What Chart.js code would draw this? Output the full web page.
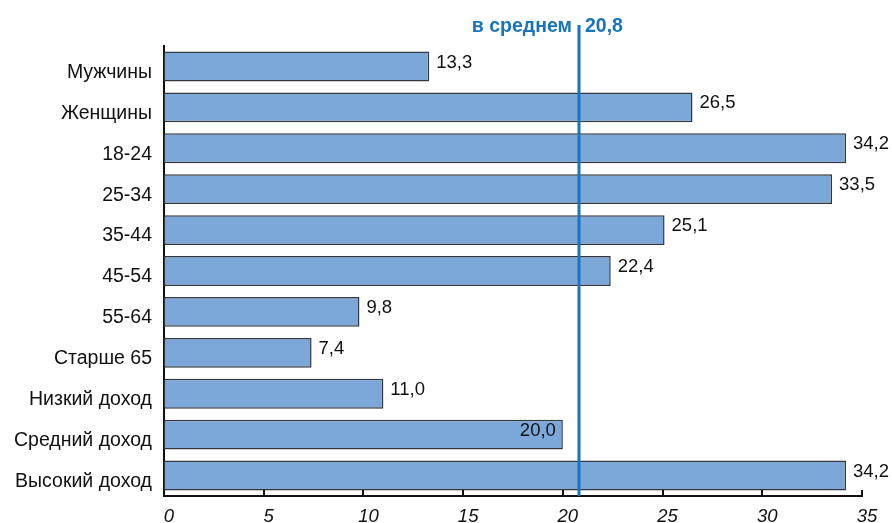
<!DOCTYPE html>
<html>
<head>
<meta charset="utf-8">
<script src="https://cdn.jsdelivr.net/npm/chart.js@4"></script>
<style>
  html, body { margin: 0; padding: 0; background: #fff; }
  #wrap { width: 892px; height: 523px; }
</style>
</head>
<body>
<div id="wrap"><canvas id="chart" width="892" height="523"></canvas></div>
<script>
var categories = ['Мужчины', 'Женщины', '18-24', '25-34', '35-44', '45-54', '55-64', 'Старше 65', 'Низкий доход', 'Средний доход', 'Высокий доход'];
var values = [13.3, 26.5, 34.2, 33.5, 25.1, 22.4, 9.8, 7.4, 11.0, 20.0, 34.2];
var average = 20.8;
var averageLabel = 'в среднем';
var xTicks = [0, 5, 10, 15, 20, 25, 30, 35];

var FONT = '"Liberation Sans", Arial, sans-serif';

function fmt(v) {
    return v.toFixed(1).replace('.', ',');
}

// average line + its caption
var averagePlugin = {
    id: 'averageLine',
    afterDatasetsDraw: function (chart) {
        var ctx = chart.ctx;
        var x = Math.round(chart.scales.x.getPixelForValue(average));
        var area = chart.chartArea;
        ctx.save();
        ctx.strokeStyle = '#1a74bd';
        ctx.lineWidth = 3;
        ctx.beginPath();
        ctx.moveTo(x, 25);
        ctx.lineTo(x, area.bottom);
        ctx.stroke();
        ctx.fillStyle = '#1a74bd';
        ctx.font = 'bold 19.5px ' + FONT;
        ctx.textBaseline = 'alphabetic';
        ctx.textAlign = 'right';
        ctx.fillText(averageLabel, x - 7, 32);
        ctx.textAlign = 'left';
        ctx.fillText(fmt(average), x + 6, 32);
        ctx.restore();
    }
};

// value labels at bar ends; moved inside when they would hit the average line
var valueLabels = {
    id: 'valueLabels',
    afterDatasetsDraw: function (chart) {
        var ctx = chart.ctx;
        var meta = chart.getDatasetMeta(0);
        var avgX = chart.scales.x.getPixelForValue(average);
        ctx.save();
        ctx.font = '18.5px ' + FONT;
        ctx.fillStyle = '#111';
        ctx.textBaseline = 'middle';
        meta.data.forEach(function (bar, i) {
            var text = fmt(values[i]);
            var w = ctx.measureText(text).width;
            var y = bar.y - 4;
            if (bar.x < avgX && bar.x + 7 + w > avgX - 3) {
                ctx.textAlign = 'right';
                ctx.fillText(text, bar.x - 7, y);
            } else {
                ctx.textAlign = 'left';
                ctx.fillText(text, bar.x + 7, y);
            }
        });
        ctx.restore();
    }
};

// short tick marks pointing up from the x axis
var innerTicks = {
    id: 'innerTicks',
    afterDraw: function (chart) {
        var ctx = chart.ctx;
        var xs = chart.scales.x;
        var bottom = chart.chartArea.bottom;
        ctx.save();
        ctx.strokeStyle = '#111';
        ctx.lineWidth = 2;
        xTicks.forEach(function (t) {
            if (t === 0) return;
            var x = Math.round(xs.getPixelForValue(t));
            ctx.beginPath();
            ctx.moveTo(x, bottom);
            ctx.lineTo(x, bottom - 6);
            ctx.stroke();
        });
        ctx.restore();
    }
};

new Chart(document.getElementById('chart'), {
    type: 'bar',
    data: {
        labels: categories,
        datasets: [{
            data: values,
            backgroundColor: '#7ba7d9',
            borderColor: '#33373d',
            borderWidth: 1.5,
            borderSkipped: false,
            barPercentage: 0.73,
            categoryPercentage: 1
        }]
    },
    options: {
        indexAxis: 'y',
        responsive: false,
        animation: false,
        devicePixelRatio: 1,
        layout: { padding: { top: 46, right: 30, left: 0, bottom: 0 } },
        plugins: {
            legend: { display: false },
            tooltip: { enabled: false }
        },
        scales: {
            x: {
                min: 0,
                max: 35,
                afterBuildTicks: function (scale) {
                    scale.ticks = xTicks.map(function (v) { return { value: v }; });
                },
                afterFit: function (scale) { scale.height = 27; },
                grid: { display: false },
                border: { display: true, color: '#111', width: 2 },
                ticks: {
                    padding: 2,
                    labelOffset: 5,
                    color: '#111',
                    font: { family: FONT, size: 18.5, style: 'italic' },
                    maxRotation: 0
                }
            },
            y: {
                afterFit: function (scale) { scale.width = 164; },
                grid: { display: false },
                border: { display: true, color: '#111', width: 2 },
                ticks: {
                    padding: 4,
                    labelOffset: 6,
                    color: '#111',
                    font: { family: FONT, size: 19.5 }
                }
            }
        }
    },
    plugins: [valueLabels, averagePlugin, innerTicks]
});
</script>
</body>
</html>
